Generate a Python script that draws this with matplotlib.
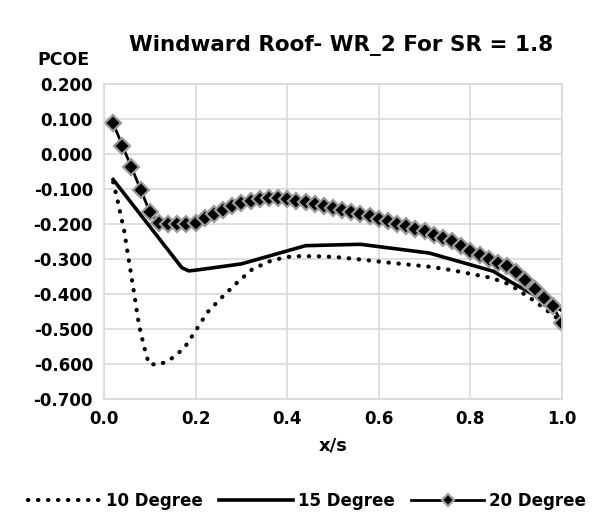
import matplotlib.pyplot as plt
import numpy as np

# 10 Degree (dotted)
x10 = [0.020, 0.029, 0.044, 0.055, 0.066, 0.076, 0.087, 0.098, 0.120, 0.142, 0.175,
       0.200, 0.226, 0.257, 0.291, 0.324, 0.368, 0.411, 0.459, 0.502, 0.550, 0.619,
       0.710, 0.755, 0.803, 0.846, 0.886, 0.940, 1.000]
y10 = [-0.080, -0.129, -0.219, -0.310, -0.400, -0.486, -0.548, -0.600, -0.602, -0.590, -0.555,
       -0.505, -0.452, -0.410, -0.367, -0.329, -0.303, -0.292, -0.292, -0.294, -0.300, -0.310,
       -0.322, -0.331, -0.343, -0.354, -0.373, -0.420, -0.480]

# 15 Degree (solid)
x15 = [0.020, 0.170, 0.185, 0.200, 0.300, 0.440, 0.560, 0.710, 0.850, 0.890, 1.000]
y15 = [-0.073, -0.325, -0.334, -0.332, -0.314, -0.262, -0.258, -0.283, -0.335, -0.367, -0.447]

# 20 Degree (diamonds)
x20 = [round(0.02 * i, 2) for i in range(1, 51)]
y20 = [0.088, 0.024, -0.038, -0.102, -0.165, -0.198, -0.200, -0.201, -0.201, -0.196,
       -0.184, -0.171, -0.160, -0.148, -0.140, -0.135, -0.130, -0.127, -0.125, -0.128,
       -0.133, -0.137, -0.142, -0.148, -0.153, -0.159, -0.166, -0.171, -0.176, -0.185,
       -0.191, -0.199, -0.207, -0.214, -0.221, -0.231, -0.240, -0.250, -0.264, -0.278,
       -0.288, -0.299, -0.311, -0.321, -0.337, -0.361, -0.386, -0.411, -0.435, -0.460]
y20[49] = -0.483

xticks = [0.0, 0.2, 0.4, 0.6, 0.8, 1.0]
yticks = [0.2, 0.1, 0.0, -0.1, -0.2, -0.3, -0.4, -0.5, -0.6, -0.7]

fig = plt.figure(figsize=(5.96, 5.2), dpi=100)
ax = fig.add_axes([0.1745, 0.2327, 0.7685, 0.6058])

ax.plot(x10, y10, color='black', lw=3, linestyle=(0, (0.1, 2.3)),
        dash_capstyle='round', label='10 Degree')
ax.plot(x15, y15, color='black', lw=2.6, label='15 Degree')
ax.plot(x20, y20, color='black', lw=2, marker='D', markersize=8.5,
        markerfacecolor='black', markeredgecolor='#9a9a9a', markeredgewidth=1.6,
        label='20 Degree')

ax.set_xlim(0, 1.0)
ax.set_ylim(-0.7, 0.2)
ax.set_xticks(xticks)
ax.set_yticks(yticks)
ax.set_xticklabels(['%.1f' % v for v in xticks], fontsize=12, fontweight='bold')
ax.set_yticklabels(['%.3f' % v for v in yticks], fontsize=12, fontweight='bold')
ax.tick_params(length=0, pad=8)
ax.grid(True, color='#d9d9d9', lw=1.2)
ax.set_axisbelow(True)
for s in ax.spines.values():
    s.set_color('#d9d9d9')
    s.set_linewidth(1.2)

ax.set_xlabel('x/s', fontsize=13, fontweight='bold', labelpad=6)
fig.text(0.106, 0.885, 'PCOE', fontsize=12.5, fontweight='bold', ha='center', va='center')
fig.text(0.572, 0.913, 'Windward Roof- WR_2 For SR = 1.8', fontsize=15.5, fontweight='bold',
         ha='center', va='center')

fig.legend(loc='lower center', bbox_to_anchor=(0.515, -0.01), ncol=3, frameon=False,
           prop={'size': 12, 'weight': 'bold'}, handlelength=4.4, handletextpad=0.3,
           columnspacing=1.0, markerscale=0.7)

fig.savefig('out.png', dpi=100)
